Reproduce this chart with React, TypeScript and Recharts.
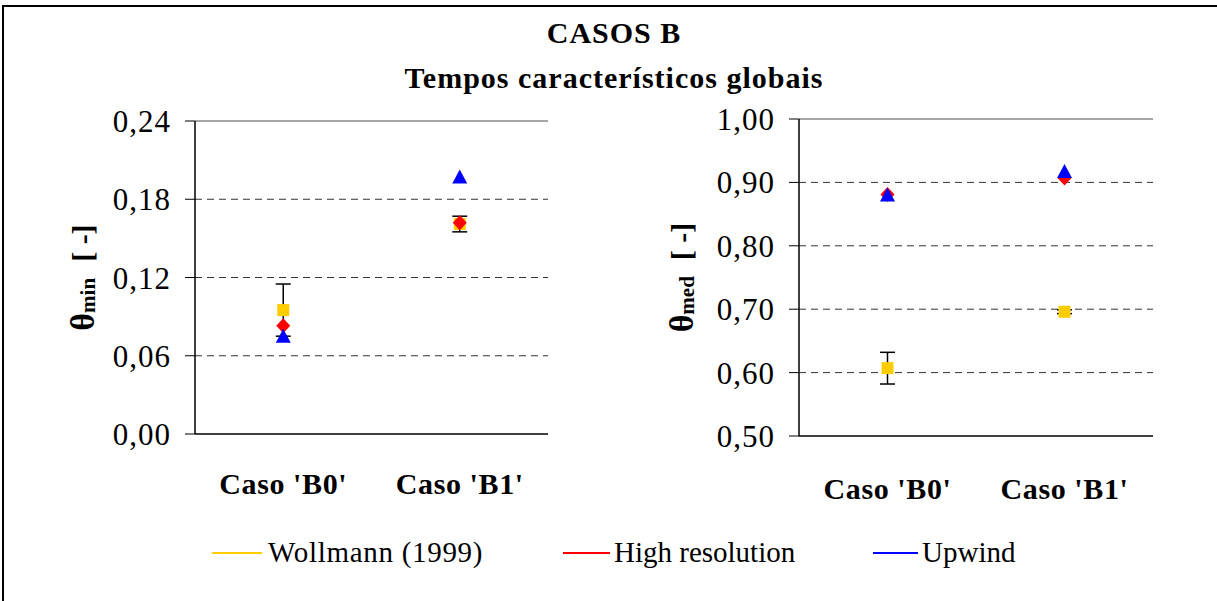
import React from 'react';
import { ComposedChart, Line, XAxis, YAxis, ReferenceLine, ErrorBar } from 'recharts';

const categories = ["Caso 'B0'", "Caso 'B1'"];
const minWollmann = [0.095, 0.161];
const minWollmannErr = [0.02, 0.006];
const minHighRes = [0.083, 0.162];
const minUpwind = [0.075, 0.197];
const medWollmann = [0.607, 0.696];
const medWollmannErr = [0.025, 0.003];
const medHighRes = [0.881, 0.907];
const medUpwind = [0.88, 0.917];
const minTicks = [0, 0.06, 0.12, 0.18, 0.24];
const medTicks = [0.5, 0.6, 0.7, 0.8, 0.9, 1.0];
const legendNames = ['Wollmann (1999)', 'High resolution', 'Upwind'];

const YELLOW = '#FFCC00';
const RED = '#FF0000';
const BLUE = '#0000FF';
const FONT = 'Liberation Serif, serif';

const minData = categories.map((name, i) => ({
  name,
  woll: minWollmann[i],
  wollErr: minWollmannErr[i],
  high: minHighRes[i],
  up: minUpwind[i],
}));
const medData = categories.map((name, i) => ({
  name,
  woll: medWollmann[i],
  wollErr: medWollmannErr[i],
  high: medHighRes[i],
  up: medUpwind[i],
}));

const fmt = (v: number) => v.toFixed(2).replace('.', ',');

const SquareDot = (p: any) =>
  p.cx == null ? <g key={p.key} /> : <rect key={p.key} x={p.cx - 6} y={p.cy - 6} width={12} height={12} fill={YELLOW} />;
const DiamondDot = (p: any) =>
  p.cx == null ? <g key={p.key} /> : (
    <polygon key={p.key} points={`${p.cx},${p.cy - 7.5} ${p.cx + 7},${p.cy} ${p.cx},${p.cy + 7.5} ${p.cx - 7},${p.cy}`} fill={RED} />
  );
const TriangleDot = (p: any) =>
  p.cx == null ? <g key={p.key} /> : (
    <polygon key={p.key} points={`${p.cx},${p.cy - 7.5} ${p.cx + 7.5},${p.cy + 6.5} ${p.cx - 7.5},${p.cy + 6.5}`} fill={BLUE} />
  );

const makeYLabel = (sub: string, dx: number) => (props: any) => {
  const vb = props.viewBox || {};
  const x = (vb.x || 0) + dx;
  const y = (vb.y || 0) + (vb.height || 0) / 2;
  return (
    <text
      x={x}
      y={y}
      transform={`rotate(-90, ${x}, ${y})`}
      textAnchor="middle"
      dominantBaseline="central"
      style={{ fontFamily: FONT, fontWeight: 'bold', fontSize: 30 }}
      fill="#000"
    >
      <tspan style={{ fontSize: 34 }}>θ</tspan>
      <tspan style={{ fontSize: 21 }} dy={6}>{sub}</tspan>
      <tspan dy={-6} dx={16}>{'[ -]'}</tspan>
    </text>
  );
};

type PanelProps = {
  data: any[];
  ticks: number[];
  domain: [number, number];
  sub: string;
  yWidth: number;
  labelDx: number;
  marginTop: number;
  catHeight: number;
  catMargin: number;
  width: number;
};

const Panel = ({ data, ticks, domain, sub, yWidth, labelDx, marginTop, catHeight, catMargin, width }: PanelProps) => {
  const inner = ticks.slice(1, -1);
  return (
    <ComposedChart width={width} height={420} data={data} margin={{ top: marginTop, right: 12, left: 0, bottom: 0 }}>
      <XAxis
        xAxisId={0}
        type="number"
        domain={[0, 2]}
        ticks={[0, 1, 2]}
        tick={false}
        tickSize={8}
        height={8}
        axisLine={{ stroke: '#000', strokeWidth: 1.5 }}
        tickLine={{ stroke: '#000' }}
      />
      <XAxis
        xAxisId={1}
        dataKey="name"
        type="category"
        scale="band"
        axisLine={false}
        tickLine={false}
        tickSize={0}
        tickMargin={catMargin}
        height={catHeight}
        interval={0}
        tick={{ fontFamily: FONT, fontWeight: 'bold', fontSize: 30, fill: '#000', style: { fontFamily: FONT, letterSpacing: 0.6 } }}
      />
      <YAxis
        type="number"
        domain={domain}
        ticks={ticks}
        interval={0}
        width={yWidth}
        tickFormatter={fmt}
        tickSize={10}
        tickMargin={14}
        axisLine={{ stroke: '#000', strokeWidth: 1.5 }}
        tickLine={{ stroke: '#000' }}
        tick={{ fontFamily: FONT, fontSize: 31, fill: '#000', style: { fontFamily: FONT, letterSpacing: 1 } }}
        label={{ content: makeYLabel(sub, labelDx) }}
      />
      {inner.map((v) => (
        <ReferenceLine key={v} xAxisId={1} y={v} stroke="#333" strokeDasharray="7 5" strokeWidth={1} />
      ))}
      <ReferenceLine xAxisId={1} y={domain[1]} stroke="#888" strokeWidth={1.5} />
      <ReferenceLine xAxisId={0} x={2} stroke="#888" strokeWidth={1.5} />
      <Line xAxisId={1} dataKey="woll" stroke="none" dot={SquareDot} activeDot={false} isAnimationActive={false} legendType="none">
        <ErrorBar dataKey="wollErr" direction="y" width={7.5} stroke="#000" strokeWidth={1.5} />
      </Line>
      <Line xAxisId={1} dataKey="high" stroke="none" dot={DiamondDot} activeDot={false} isAnimationActive={false} legendType="none" />
      <Line xAxisId={1} dataKey="up" stroke="none" dot={TriangleDot} activeDot={false} isAnimationActive={false} legendType="none" />
    </ComposedChart>
  );
};

const legendItems = [
  { name: legendNames[0], color: YELLOW, x1: 212, x2: 262, tx: 268, ls: 0.7 },
  { name: legendNames[1], color: RED, x1: 563, x2: 610, tx: 614, ls: 0 },
  { name: legendNames[2], color: BLUE, x1: 873, x2: 918, tx: 922, ls: 0 },
];

const textStyle = { fontFamily: FONT, fontSize: 30 };

export default function App() {
  return (
    <div style={{ position: 'fixed', left: 0, top: 0, width: 1217, height: 601, background: '#fff', overflow: 'hidden', fontFamily: FONT }}>
      <div style={{ position: 'absolute', left: 60, top: 100 }}>
        <Panel data={minData} ticks={minTicks} domain={[0, 0.24]} sub="min" yWidth={135} labelDx={22} marginTop={21} catHeight={78} catMargin={31} width={500} />
      </div>
      <div style={{ position: 'absolute', left: 640, top: 100 }}>
        <Panel data={medData} ticks={medTicks} domain={[0.5, 1.0]} sub="med" yWidth={159} labelDx={41} marginTop={19} catHeight={76} catMargin={34} width={525} />
      </div>
      <svg width={1217} height={601} style={{ position: 'absolute', left: 0, top: 0, pointerEvents: 'none' }}>
        <rect x={3} y={6} width={1300} height={700} fill="none" stroke="#000" strokeWidth={2} />
        <text x={614} y={32} textAnchor="middle" dominantBaseline="central" style={{ ...textStyle, fontWeight: 'bold', letterSpacing: 1 }} fill="#000">
          CASOS B
        </text>
        <text x={614} y={77} textAnchor="middle" dominantBaseline="central" style={{ ...textStyle, fontWeight: 'bold', letterSpacing: 1 }} fill="#000">
          Tempos característicos globais
        </text>
        {legendItems.map((it) => (
          <g key={it.name}>
            <line x1={it.x1} x2={it.x2} y1={553} y2={553} stroke={it.color} strokeWidth={2} />
            <text x={it.tx} y={552} dominantBaseline="central" style={{ ...textStyle, fontSize: 29, letterSpacing: it.ls }} fill="#000">
              {it.name}
            </text>
          </g>
        ))}
      </svg>
    </div>
  );
}
